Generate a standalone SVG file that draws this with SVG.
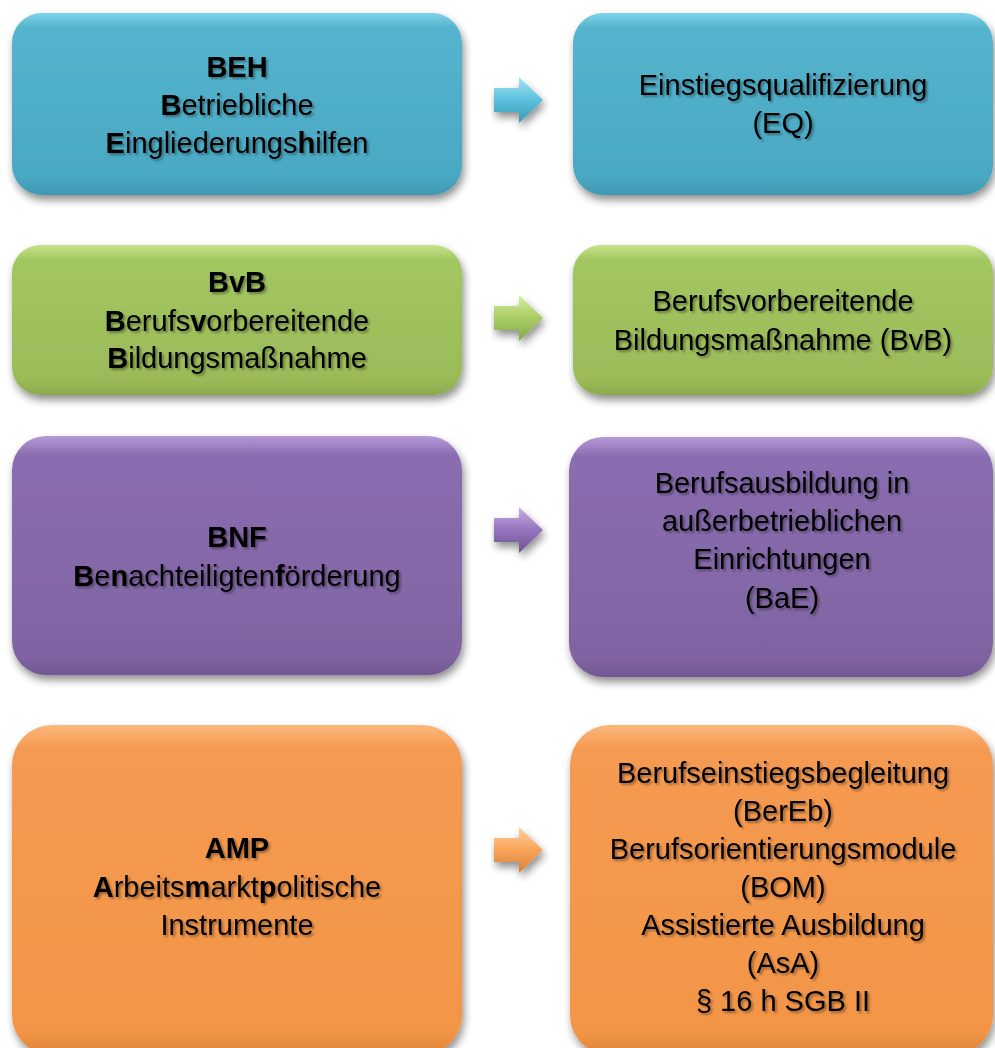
<svg xmlns="http://www.w3.org/2000/svg" width="995" height="1048" viewBox="0 0 995 1048">
<defs>
<filter id="sh" x="-10%" y="-10%" width="125%" height="130%">
<feGaussianBlur in="SourceAlpha" stdDeviation="4"/>
<feOffset dx="2" dy="5" result="b"/>
<feComponentTransfer><feFuncA type="linear" slope="0.45"/></feComponentTransfer>
<feMerge><feMergeNode/><feMergeNode in="SourceGraphic"/></feMerge>
</filter>
<filter id="tsh" x="-5%" y="-20%" width="115%" height="150%">
<feGaussianBlur in="SourceAlpha" stdDeviation="1"/>
<feOffset dx="2" dy="2"/>
<feComponentTransfer><feFuncA type="linear" slope="0.35"/></feComponentTransfer>
<feMerge><feMergeNode/><feMergeNode in="SourceGraphic"/></feMerge>
</filter>
<linearGradient id="gBlue" x1="0" y1="0" x2="0" y2="1">
<stop offset="0" stop-color="#7fd3ea"/><stop offset="0.08" stop-color="#55b4cd"/><stop offset="0.9" stop-color="#4aa8c2"/><stop offset="1" stop-color="#3f98b1"/>
</linearGradient>
<linearGradient id="gGreen" x1="0" y1="0" x2="0" y2="1">
<stop offset="0" stop-color="#c6e38a"/><stop offset="0.1" stop-color="#a2c660"/><stop offset="0.9" stop-color="#9bbb59"/><stop offset="1" stop-color="#8aa94c"/>
</linearGradient>
<linearGradient id="gPurple" x1="0" y1="0" x2="0" y2="1">
<stop offset="0" stop-color="#b69ad6"/><stop offset="0.08" stop-color="#8a6db0"/><stop offset="0.92" stop-color="#8064a2"/><stop offset="1" stop-color="#705893"/>
</linearGradient>
<linearGradient id="gOrange" x1="0" y1="0" x2="0" y2="1">
<stop offset="0" stop-color="#fbb77c"/><stop offset="0.07" stop-color="#f59a52"/><stop offset="0.93" stop-color="#f29546"/><stop offset="1" stop-color="#de843b"/>
</linearGradient>
<linearGradient id="aBlue" x1="0" y1="0" x2="0" y2="1"><stop offset="0" stop-color="#a5e4f4"/><stop offset="0.5" stop-color="#5cc0dc"/><stop offset="1" stop-color="#3a9ab6"/></linearGradient>
<linearGradient id="aGreen" x1="0" y1="0" x2="0" y2="1"><stop offset="0" stop-color="#d6ee9e"/><stop offset="0.5" stop-color="#a8cc66"/><stop offset="1" stop-color="#86a84a"/></linearGradient>
<linearGradient id="aPurple" x1="0" y1="0" x2="0" y2="1"><stop offset="0" stop-color="#c7b0e4"/><stop offset="0.5" stop-color="#9474bd"/><stop offset="1" stop-color="#6d5490"/></linearGradient>
<linearGradient id="aOrange" x1="0" y1="0" x2="0" y2="1"><stop offset="0" stop-color="#fdd09d"/><stop offset="0.5" stop-color="#f8a458"/><stop offset="1" stop-color="#d9803a"/></linearGradient>
<path id="arr" d="M0,-12 L25,-12 L25,-23 L49,0 L25,23 L25,12 L0,12 Z"/>
</defs>
<style>
text{font-family:"Liberation Sans",Arial,sans-serif;font-size:29px;fill:#000;text-anchor:middle}
.t{filter:url(#tsh)}
.b{font-weight:bold}
</style>
<rect width="995" height="1048" fill="#fff"/>

<g id="connectors">
<g filter="url(#sh)">
<use href="#arr" x="494" y="100" fill="url(#aBlue)"/>
<use href="#arr" x="494" y="318" fill="url(#aGreen)"/>
<use href="#arr" x="494" y="530" fill="url(#aPurple)"/>
<use href="#arr" x="494" y="850" fill="url(#aOrange)"/>
</g>
</g>

<g id="beh">
<rect x="12" y="13" width="450" height="182" rx="30" fill="url(#gBlue)" filter="url(#sh)"/>
<g class="t">
<text x="237" y="77" class="b">BEH</text>
<text x="237" y="115"><tspan class="b">B</tspan>etriebliche</text>
<text x="237" y="153"><tspan class="b">E</tspan>ingliederungs<tspan class="b">h</tspan>ilfen</text>
</g>
</g>
<g id="eq">
<rect x="573" y="13" width="420" height="182" rx="30" fill="url(#gBlue)" filter="url(#sh)"/>
<g class="t">
<text x="783" y="95">Einstiegsqualifizierung</text>
<text x="783" y="133">(EQ)</text>
</g>
</g>

<g id="bvb">
<rect x="12" y="245" width="450" height="150" rx="28" fill="url(#gGreen)" filter="url(#sh)"/>
<g class="t">
<text x="237" y="292" class="b">BvB</text>
<text x="237" y="331"><tspan class="b">B</tspan>erufs<tspan class="b">v</tspan>orbereitende</text>
<text x="237" y="368"><tspan class="b">B</tspan>ildungsmaßnahme</text>
</g>
</g>
<g id="bvb2">
<rect x="573" y="245" width="420" height="150" rx="28" fill="url(#gGreen)" filter="url(#sh)"/>
<g class="t">
<text x="783" y="311">Berufsvorbereitende</text>
<text x="783" y="350">Bildungsmaßnahme (BvB)</text>
</g>
</g>

<g id="bnf">
<rect x="12" y="436" width="450" height="239" rx="34" fill="url(#gPurple)" filter="url(#sh)"/>
<g class="t">
<text x="237" y="547" class="b">BNF</text>
<text x="237" y="586"><tspan class="b">B</tspan>e<tspan class="b">n</tspan>achteiligten<tspan class="b">f</tspan>örderung</text>
</g>
</g>
<g id="bae">
<rect x="569" y="437" width="424" height="240" rx="34" fill="url(#gPurple)" filter="url(#sh)"/>
<g class="t">
<text x="782" y="493">Berufsausbildung in</text>
<text x="782" y="531">außerbetrieblichen</text>
<text x="782" y="569">Einrichtungen</text>
<text x="782" y="608">(BaE)</text>
</g>
</g>

<g id="amp">
<rect x="12" y="725" width="450" height="330" rx="40" fill="url(#gOrange)" filter="url(#sh)"/>
<g class="t">
<text x="237" y="858" class="b">AMP</text>
<text x="237" y="897"><tspan class="b">A</tspan>rbeits<tspan class="b">m</tspan>arkt<tspan class="b">p</tspan>olitische</text>
<text x="237" y="935">Instrumente</text>
</g>
</g>
<g id="berEb">
<rect x="570" y="725" width="423" height="330" rx="40" fill="url(#gOrange)" filter="url(#sh)"/>
<g class="t">
<text x="783" y="783">Berufseinstiegsbegleitung</text>
<text x="783" y="821">(BerEb)</text>
<text x="783" y="859">Berufsorientierungsmodule</text>
<text x="783" y="897">(BOM)</text>
<text x="783" y="935">Assistierte Ausbildung</text>
<text x="783" y="973">(AsA)</text>
<text x="783" y="1011">§ 16 h SGB II</text>
</g>
</g>
</svg>
